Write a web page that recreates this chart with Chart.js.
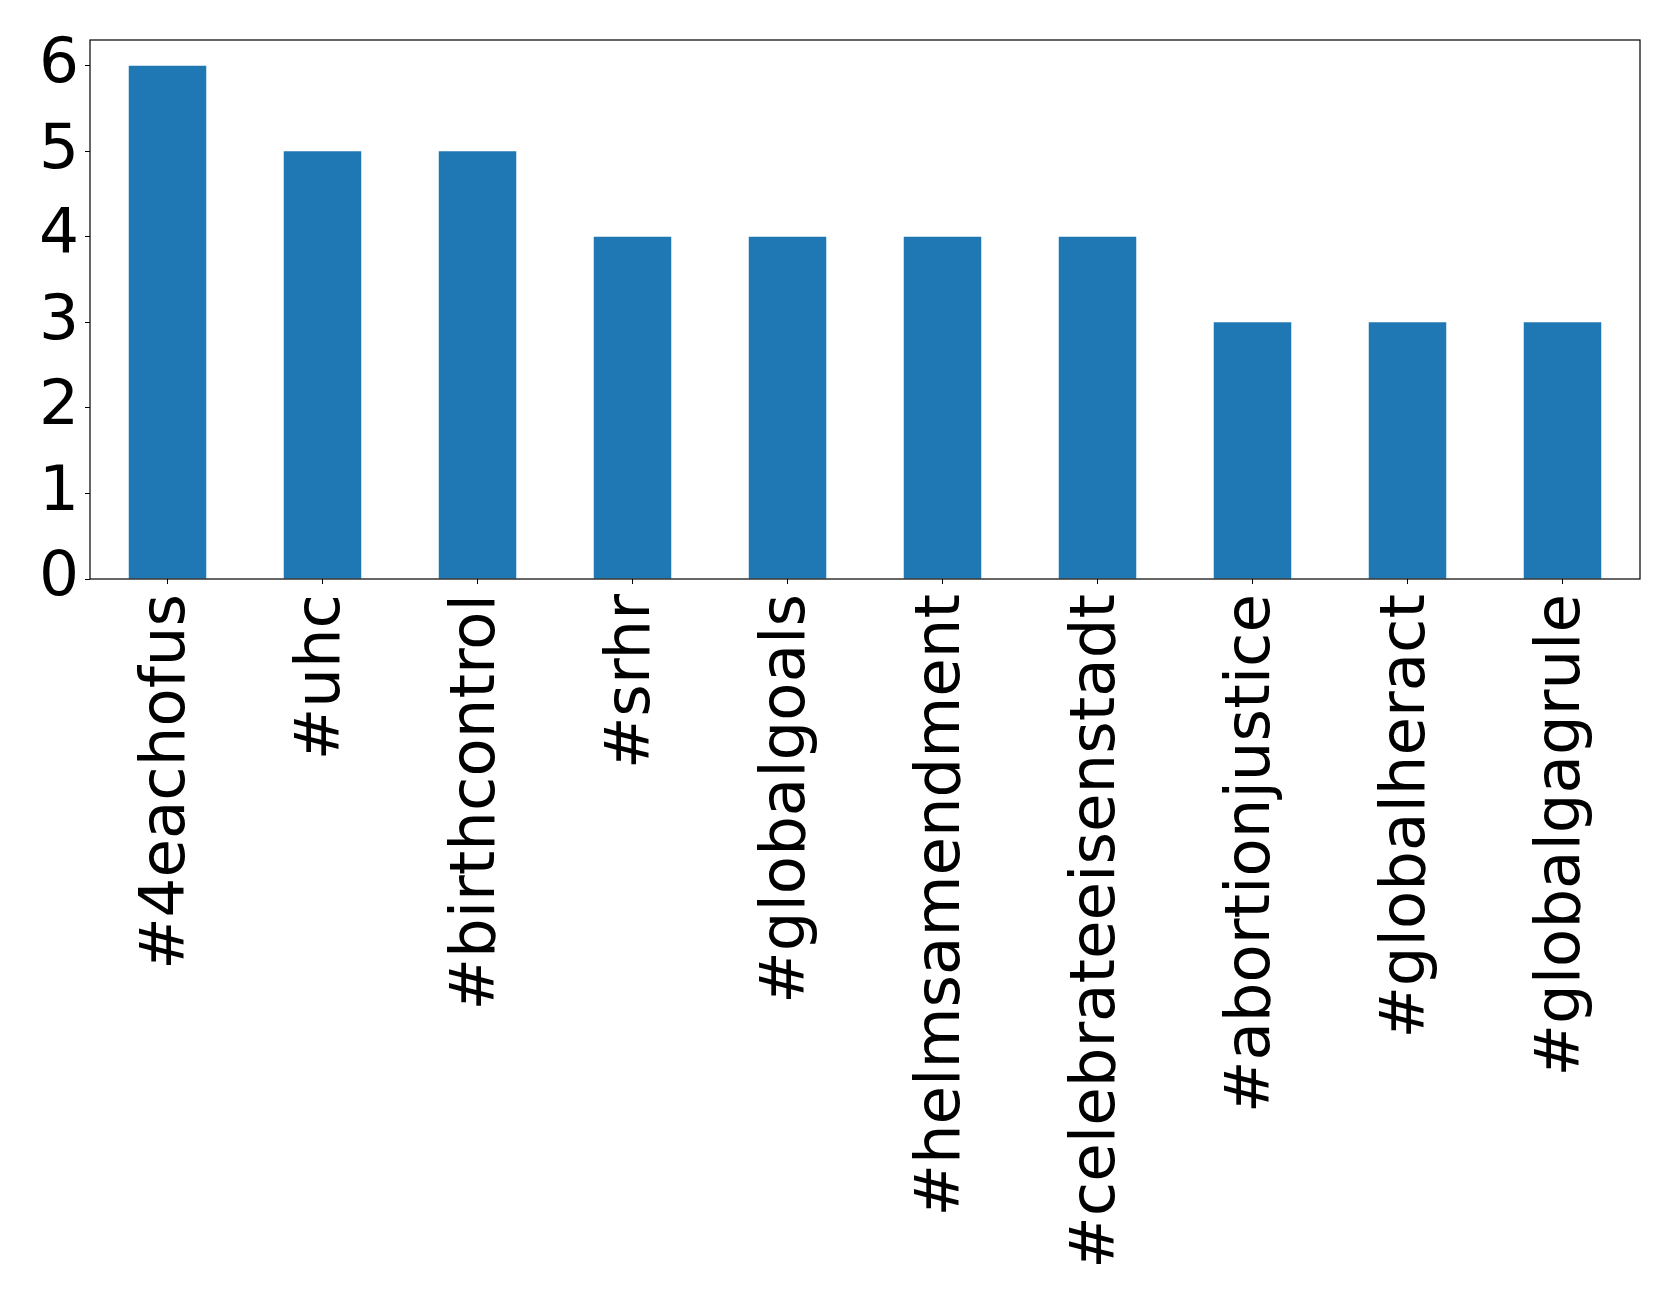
<!DOCTYPE html>
<html>
<head>
<meta charset="utf-8">
<script src="https://cdn.jsdelivr.net/npm/chart.js@4"></script>
<style>
  html, body { margin: 0; padding: 0; background: #fff; }
  #wrap { width: 1679px; height: 1302px; }
</style>
</head>
<body>
<div id="wrap"><canvas id="myChart" width="1679" height="1302"></canvas></div>
<script>
(function () {
  'use strict'

  var hashtags = [
    '#4eachofus', '#uhc', '#birthcontrol', '#srhr', '#globalgoals',
    '#helmsamendment', '#celebrateeisenstadt', '#abortionjustice',
    '#globalheract', '#globalgagrule'
  ];
  var counts = [6, 5, 5, 4, 4, 4, 4, 3, 3, 3];
  var yTicks = [0, 1, 2, 3, 4, 5, 6];

  var FONT = 'DejaVu Sans';

  // black frame round the plot area, like matplotlib
  var frame = {
    id: 'frame',
    afterDatasetsDraw: function (chart) {
      var a = chart.chartArea, c = chart.ctx;
      c.save();
      c.strokeStyle = '#000';
      c.lineWidth = 1.2;
      c.strokeRect(a.left, a.top, a.right - a.left, a.bottom - a.top);
      c.restore();
    }
  };

  var ctx = document.getElementById('myChart').getContext('2d');
  // eslint-disable-next-line no-unused-vars
  var myChart = new Chart(ctx, {
    type: 'bar',
    data: {
      labels: hashtags,
      datasets: [{
        data: counts,
        backgroundColor: '#1f77b4',
        barPercentage: 0.5,
        categoryPercentage: 1.0
      }]
    },
    plugins: [frame],
    options: {
      responsive: false,
      animation: false,
      layout: { padding: { top: 40, right: 39, left: 0, bottom: 0 } },
      plugins: { legend: { display: false }, tooltip: { enabled: false } },
      scales: {
        x: {
          offset: true,
          grid: { display: true, offset: false, drawOnChartArea: false, tickLength: 5, color: '#000' },
          border: { display: false },
          ticks: {
            color: '#000',
            font: { family: FONT, size: 62.6 },
            minRotation: 90,
            maxRotation: 90,
            autoSkip: false,
            padding: 10
          },
          afterFit: function (s) {
            s.height = 1302 - 579;
            s.paddingLeft = 0;
            s.paddingRight = 0;
          }
        },
        y: {
          min: 0,
          max: 6.3,
          afterBuildTicks: function (s) {
            s.ticks = yTicks.map(function (v) { return { value: v }; });
          },
          grid: { display: true, drawOnChartArea: false, tickLength: 5, color: '#000' },
          border: { display: false },
          ticks: {
            color: '#000',
            font: { family: FONT, size: 63 },
            padding: 6
          },
          afterFit: function (s) {
            s.width = 90;
            s.paddingTop = 0;
            s.paddingBottom = 0;
          }
        }
      }
    }
  });
}())
</script>
</body>
</html>
